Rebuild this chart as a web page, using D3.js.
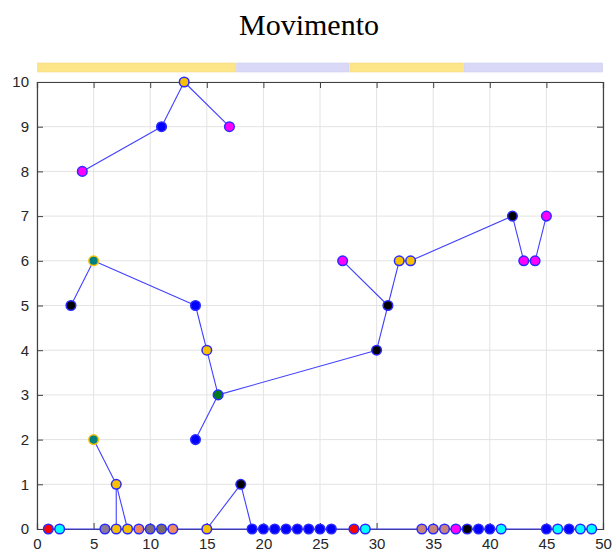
<!DOCTYPE html>
<html><head><meta charset="utf-8">
<script src="https://cdn.jsdelivr.net/npm/d3@7"></script>
<style>body{margin:0;background:#fff}svg{display:block}</style>
</head><body>
<script>
// Nodes: x position, y level, fill color, edge color
const nodeX = [1,2,6,7,8,9,10,11,12,15,19,20,21,22,23,24,25,26,28,29,34,35,36,37,38,39,40,41,45,46,47,48,49,
               7,18, 5,14,16, 15, 3,14,30, 31,5, 4,11,13,17, 27,32,33,42,43,44,45];
const nodeY = [0,0,0,0,0,0,0,0,0,0,0,0,0,0,0,0,0,0,0,0,0,0,0,0,0,0,0,0,0,0,0,0,0,
               1,1, 2,2,3, 4, 5,5,4, 5,6, 8,9,10,9, 6,6,6,7,6,6,7];
const nodeFill = ["#ff0000","#00ffff","#8a7a96","#f7c000","#f7c000","#f0845e","#7a6a7c","#7a6a6a","#f08a60","#f7c000",
  "#0000ff","#0000ff","#0000ff","#0000ff","#0000ff","#0000ff","#0000ff","#0000ff","#ff0000","#00ffff",
  "#c8847a","#c8847a","#c8847a","#ff00ff","#000000","#0000ff","#0000ff","#00ffff","#0000ff","#00ffff","#0000ff","#00ffff","#00ffff",
  "#f7c000","#000000", "#008080","#0000ff","#007a20", "#f7c000", "#000000","#0000ff","#000000", "#000000","#008080",
  "#ff00ff","#0000ff","#f7c000","#ff00ff", "#ff00ff","#f7c000","#f7c000","#000000","#ff00ff","#ff00ff","#ff00ff"];
const nodeEdge = nodeX.map((d,i)=> (i===35||i===43) ? "#f7c000" : "#2a2aff");

// Edges as pairs of [x1,y1,x2,y2]
const edgeFrom = [[1,0],[4,8],[11,9],[13,10],[3,5],[5,6],[14,5],[15,4],[16,3],[16,3],[30,4],[31,5],[31,5],[32,6],[33,6],[42,7],[43,6],[44,6],[5,2],[7,1],[7,1],[15,0],[18,1]];
const edgeTo   = [[49,0],[11,9],[13,10],[17,9],[5,6],[14,5],[15,4],[16,3],[14,2],[30,4],[31,5],[27,6],[32,6],[33,6],[42,7],[43,6],[44,6],[45,7],[7,1],[7,0],[8,0],[18,1],[19,0]];

// Top phase bar
const phaseStart = [0,17.6,27.6,37.7];
const phaseEnd   = [17.6,27.6,37.7,50];
const phaseColor = ["#fde58a","#d9d9f7","#fde58a","#d9d9f7"];

const xTicks = [0,5,10,15,20,25,30,35,40,45,50];
const yTicks = [0,1,2,3,4,5,6,7,8,9,10];

const W=616,H=560, L=37,R=603,T=82,B=529;
const svg=d3.select("body").append("svg").attr("width",W).attr("height",H);
const x=d3.scaleLinear().domain([0,50]).range([L,R]);
const y=d3.scaleLinear().domain([0,10]).range([B,T]);

// grid
svg.append("g").selectAll("line").data(xTicks).join("line")
  .attr("x1",d=>x(d)).attr("x2",d=>x(d)).attr("y1",T).attr("y2",B)
  .attr("stroke","#e3e3e3").attr("stroke-width",1);
svg.append("g").selectAll("line").data(yTicks).join("line")
  .attr("x1",L).attr("x2",R).attr("y1",d=>y(d)).attr("y2",d=>y(d))
  .attr("stroke","#e3e3e3").attr("stroke-width",1);

// phase bar
svg.append("g").selectAll("rect").data(phaseStart).join("rect")
  .attr("x",(d,i)=>x(d)+0.5).attr("width",(d,i)=>x(phaseEnd[i])-x(d)-1)
  .attr("y",63).attr("height",9)
  .attr("fill",(d,i)=>phaseColor[i]).attr("stroke",(d,i)=>i%2?"#ccccee":"#f3d680").attr("stroke-width",0.6);

// axes
const axCol="#404040";
const gx=svg.append("g").attr("transform",`translate(0,${B})`).call(d3.axisBottom(x).tickValues(xTicks).tickSize(-6).tickPadding(9));
const gy=svg.append("g").attr("transform",`translate(${L},0)`).call(d3.axisLeft(y).tickValues(yTicks).tickSize(-6).tickPadding(8));
const gxt=svg.append("g").attr("transform",`translate(0,${T})`).call(d3.axisTop(x).tickValues(xTicks).tickSize(-6).tickFormat(""));
const gyr=svg.append("g").attr("transform",`translate(${R},0)`).call(d3.axisRight(y).tickValues(yTicks).tickSize(-6).tickFormat(""));
[gx,gy,gxt,gyr].forEach(g=>{
  g.selectAll("path").attr("stroke",axCol).attr("stroke-width",1.2);
  g.selectAll("line").attr("stroke",axCol);
  g.selectAll("text").attr("fill","#262626").style("font-family","Liberation Sans, Arial, sans-serif").style("font-size","15px");
});

// edges
svg.append("g").selectAll("line").data(edgeFrom).join("line")
  .attr("x1",d=>x(d[0])).attr("y1",d=>y(d[1]))
  .attr("x2",(d,i)=>x(edgeTo[i][0])).attr("y2",(d,i)=>y(edgeTo[i][1]))
  .attr("stroke","#4040ff").attr("stroke-width",1.1);

// nodes
svg.append("g").selectAll("circle").data(nodeX).join("circle")
  .attr("cx",d=>x(d)).attr("cy",(d,i)=>y(nodeY[i])).attr("r",4.8)
  .attr("fill",(d,i)=>nodeFill[i]).attr("stroke",(d,i)=>nodeEdge[i]).attr("stroke-width",1.5);

// title
svg.append("text").attr("x",309).attr("y",35).attr("text-anchor","middle")
  .style("font-family","Liberation Serif, Times New Roman, serif").style("font-size","30px").attr("fill","#000")
  .text("Movimento");
</script>
</body></html>
